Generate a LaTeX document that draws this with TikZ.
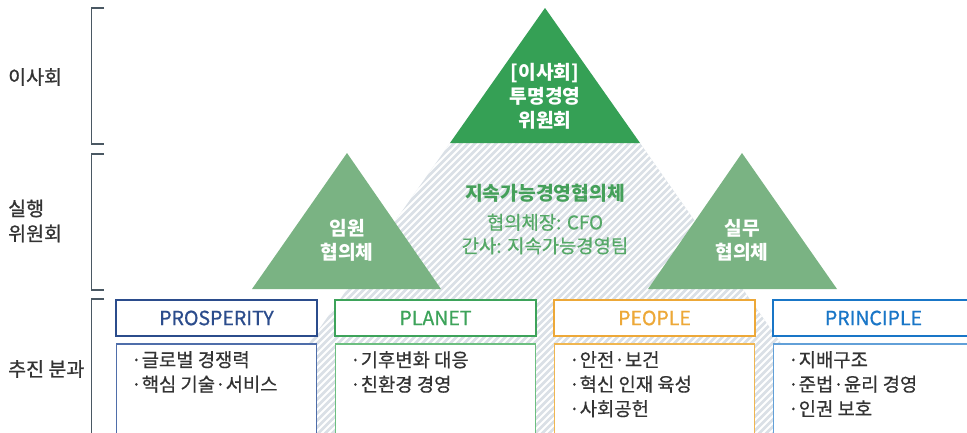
\documentclass[tikz,border=0pt]{standalone}
\usepackage{fontspec}
\setmainfont{Noto Sans CJK KR}
\newfontfamily\medfont{Noto Sans CJK KR}[FakeBold=0.9]
\newfontfamily\regfont{Noto Sans CJK KR}[FakeBold=0.6]
\definecolor{topgreen}{HTML}{35A055}
\definecolor{lightgreen}{HTML}{7AB383}
\definecolor{hatchgray}{HTML}{DAE0E6}
\definecolor{midgreen}{HTML}{45A05A}
\definecolor{subgreen}{HTML}{55A867}
\definecolor{bracketc}{HTML}{4A5863}
\definecolor{labelc}{HTML}{333333}
\definecolor{prosp}{HTML}{2B4C8C}
\definecolor{prospb}{HTML}{4F6EAA}
\definecolor{planet}{HTML}{3DA35A}
\definecolor{planetb}{HTML}{6CBF80}
\definecolor{people}{HTML}{EDA838}
\definecolor{peopleb}{HTML}{F0B650}
\definecolor{princ}{HTML}{1976C7}
\definecolor{princb}{HTML}{62A0D8}
\begin{document}
\begin{tikzpicture}[x=1pt,y=-1pt,
  lbl/.style={text=labelc, font=\medfont\fontsize{19.5}{25}\selectfont, align=left, inner sep=0pt},
  wtxt/.style={text=white, font=\fontsize{19.2}{24}\selectfont\bfseries, align=center, inner sep=0pt},
  hdr/.style={draw=#1, line width=2pt, fill=white, minimum width=201pt, minimum height=36pt, text=#1, font=\medfont\fontsize{19.5}{22}\selectfont, inner sep=0pt},
  bodybox/.style={draw=#1, line width=1.4pt, fill=white},
  bul/.style={text=labelc, font=\regfont\fontsize{18.8}{24.5}\selectfont, align=left, anchor=north west, inner sep=0pt},
  brk/.style={draw=bracketc, line width=1.4pt}
]
\useasboundingbox (0,0) rectangle (967,432);
\clip (0,0) rectangle (967,432);

% hatched big triangle
\begin{scope}
  \clip (545,8) -- (234,450) -- (856,450) -- cycle;
  \fill[hatchgray] (200,0) rectangle (900,450);
  \foreach \i in {0,...,160} {
    \draw[white, line width=2.0pt] ({-300+7*\i},460) -- ({-300+7*\i+460},0);
  }
\end{scope}

% top triangle
\fill[topgreen] (545,8) -- (450,143) -- (640,143) -- cycle;
% side triangles
\fill[lightgreen] (347,153) -- (252,289) -- (441,289) -- cycle;
\fill[lightgreen] (742,153) -- (648,289) -- (837,289) -- cycle;

% brackets
\draw[brk] (104,8) -- (91.5,8) -- (91.5,144) -- (104,144);
\draw[brk] (104,154) -- (91.5,154) -- (91.5,290) -- (104,290);
\draw[brk] (104,299) -- (91.5,299) -- (91.5,440);

% left labels
\node[lbl, anchor=west] (l1) at (8,77) {이사회};
\node[lbl, anchor=west] (l2) at (8,221) {실행\\위원회};
\node[lbl, anchor=west] (l3) at (8,369) {추진 분과};

% triangle texts
\node[wtxt] (t1) at (545,96) {[이사회]\\투명경영\\위원회};
\node[wtxt] (t2) at (347,240) {임원\\협의체};
\node[wtxt] (t3) at (742,240) {실무\\협의체};

% center text
\node[text=midgreen, font=\fontsize{19.3}{22}\selectfont\bfseries, inner sep=0pt] (c1) at (545,193) {지속가능경영협의체};
\node[text=subgreen, font=\regfont\fontsize{18.8}{23.5}\selectfont, align=center, inner sep=0pt] (c2) at (545,234) {협의체장: CFO\\간사: 지속가능경영팀};

% headers
\node[hdr=prosp] (h1) at (216.5,318) {PROSPERITY};
\node[hdr=planet] (h2) at (435.5,318) {PLANET};
\node[hdr=people] (h3) at (654.5,318) {PEOPLE};
\node[hdr=princ] (h4) at (873.5,318) {PRINCIPLE};

% bodies
\draw[bodybox=prospb] (116.5,344) rectangle (316.5,460);
\draw[bodybox=planetb] (335.5,344) rectangle (535.5,460);
\draw[bodybox=peopleb] (554.5,344) rectangle (754.5,460);
\draw[bodybox=princb] (773.5,344) rectangle (973.5,460);

\node[bul] (b1) at (131,351) {·글로벌 경쟁력\\·핵심 기술·서비스};
\node[bul] (b2) at (350,351) {·기후변화 대응\\·친환경 경영};
\node[bul] (b3) at (569,351) {·안전·보건\\·혁신 인재 육성\\·사회공헌};
\node[bul] (b4) at (788,351) {·지배구조\\·준법·윤리 경영\\·인권 보호};
\end{tikzpicture}
\end{document}
